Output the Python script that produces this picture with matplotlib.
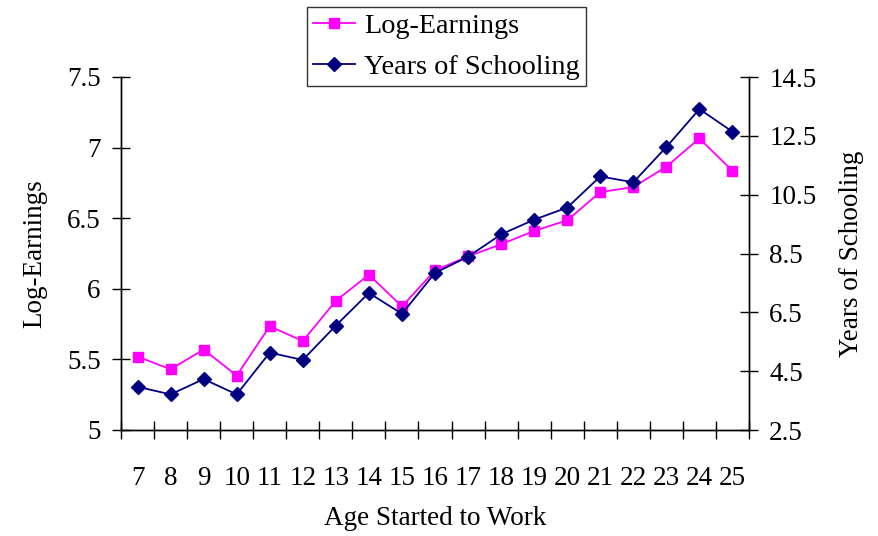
import matplotlib
matplotlib.use("Agg")
import matplotlib.pyplot as plt
from matplotlib.ticker import FixedLocator, NullFormatter

ages = [7, 8, 9, 10, 11, 12, 13, 14, 15, 16, 17, 18, 19, 20, 21, 22, 23, 24, 25]
log_earnings = [5.52, 5.43, 5.57, 5.385, 5.735, 5.63, 5.915, 6.10, 5.875, 6.13,
                6.23, 6.315, 6.41, 6.485, 6.685, 6.72, 6.865, 7.065, 6.835]
schooling = [3.97, 3.71, 4.23, 3.71, 5.13, 4.88, 6.05, 7.16, 6.45, 7.84,
             8.39, 9.15, 9.65, 10.06, 11.12, 10.92, 12.12, 13.41, 12.64]
left_ticks = [5, 5.5, 6, 6.5, 7, 7.5]
left_labels = ["5", "5.5", "6", "6.5", "7", "7.5"]
right_ticks = [2.5, 4.5, 6.5, 8.5, 10.5, 12.5, 14.5]
right_labels = ["2.5", "4.5", "6.5", "8.5", "10.5", "12.5", "14.5"]

plt.rcParams['font.family'] = ['Liberation Serif', 'DejaVu Serif']
FS = 19.5

fig = plt.figure(figsize=(8.79, 5.36), dpi=100)
ax = fig.add_axes([121/879, 1-430/536, (749-121)/879, (430-77)/536])
ax2 = ax.twinx()

l1, = ax.plot(ages, log_earnings, color='#FF00FF', marker='s', markersize=7.5,
              linewidth=1.3, label='Log-Earnings', zorder=3)
l2, = ax2.plot(ages, schooling, color='#000080', marker='D', markersize=7,
               linewidth=1.3, label='Years of Schooling', zorder=3)

ax.set_xlim(6.5, 25.5)
ax.set_ylim(5, 7.5)
ax2.set_ylim(2.5, 14.5)

ax.spines['top'].set_visible(False)
ax2.spines['top'].set_visible(False)
for sp in ['left', 'bottom', 'right']:
    ax.spines[sp].set_linewidth(1.0)
    ax2.spines[sp].set_linewidth(1.0)

ax.set_xticks(ages)
ax.set_xticklabels([str(a) for a in ages], fontsize=FS)
ax.xaxis.set_minor_locator(FixedLocator([a - 0.5 for a in ages] + [ages[-1] + 0.5]))
ax.xaxis.set_minor_formatter(NullFormatter())
ax.tick_params(axis='x', which='major', length=0, pad=26)
ax.tick_params(axis='x', which='minor', direction='inout', length=13, width=1.0)

ax.set_yticks(left_ticks)
ax.set_yticklabels(left_labels, fontsize=FS)
ax.tick_params(axis='y', direction='inout', length=13, width=1.0, pad=8)

ax2.set_yticks(right_ticks)
ax2.set_yticklabels(right_labels, fontsize=FS)
ax2.tick_params(axis='y', direction='inout', length=13, width=1.0, pad=8)

ax.set_xlabel('Age Started to Work', fontsize=FS, labelpad=11)
ax.set_ylabel('Log-Earnings', fontsize=FS, labelpad=14)
ax2.set_ylabel('Years of Schooling', fontsize=FS, labelpad=16)

leg = fig.legend(handles=[l1, l2], loc='upper left',
                 bbox_to_anchor=(307/879, 1-7/536), fontsize=20.3,
                 frameon=True, fancybox=False, edgecolor='black',
                 handlelength=1.5, borderpad=0.22, labelspacing=0.55,
                 handletextpad=0.3, borderaxespad=0)
leg.get_frame().set_linewidth(1.0)

fig.savefig('out.png', dpi=100)
